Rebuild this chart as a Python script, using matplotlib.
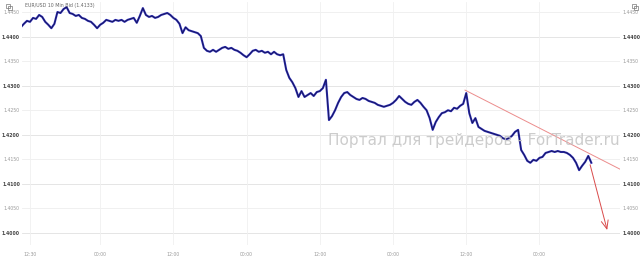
import numpy as np
import matplotlib
matplotlib.use("Agg")
import matplotlib.pyplot as plt

# ---- data ----
start_hour = 11.0          # hours since day-0 midnight (10-min bid closes sampled every 30 min)
step_hours = 0.5
prices = [
    1.4419, 1.4426, 1.4432, 1.4430, 1.4438, 1.4436, 1.4444, 1.4440, 1.4430, 1.4424,
    1.4417, 1.4426, 1.4450, 1.4448, 1.4456, 1.4460, 1.4448, 1.4446, 1.4442, 1.4444,
    1.4438, 1.4436, 1.4432, 1.4430, 1.4424, 1.4417, 1.4424, 1.4428, 1.4434, 1.4432,
    1.4430, 1.4434, 1.4432, 1.4434, 1.4430, 1.4434, 1.4436, 1.4438, 1.4428, 1.4442,
    1.4458, 1.4444, 1.4440, 1.4442, 1.4438, 1.4440, 1.4444, 1.4446, 1.4448, 1.4444,
    1.4438, 1.4434, 1.4426, 1.4407, 1.4419, 1.4413, 1.4411, 1.4409, 1.4407, 1.4401,
    1.4377, 1.4371, 1.4369, 1.4373, 1.4369, 1.4373, 1.4377, 1.4379, 1.4375, 1.4377,
    1.4373, 1.4371, 1.4367, 1.4362, 1.4358, 1.4364, 1.4371, 1.4373, 1.4369, 1.4371,
    1.4367, 1.4369, 1.4364, 1.4369, 1.4364, 1.4362, 1.4364, 1.4332, 1.4316, 1.4307,
    1.4295, 1.4277, 1.4289, 1.4277, 1.4281, 1.4285, 1.4279, 1.4287, 1.4289, 1.4295,
    1.4312, 1.4230, 1.4238, 1.4250, 1.4265, 1.4277, 1.4285, 1.4287, 1.4281, 1.4277,
    1.4273, 1.4271, 1.4275, 1.4273, 1.4269, 1.4267, 1.4265, 1.4261, 1.4259, 1.4257,
    1.4259, 1.4261, 1.4265, 1.4271, 1.4279, 1.4273, 1.4267, 1.4263, 1.4261, 1.4267,
    1.4271, 1.4265, 1.4257, 1.4250, 1.4234, 1.4210, 1.4226, 1.4236, 1.4244, 1.4246,
    1.4250, 1.4248, 1.4255, 1.4253, 1.4259, 1.4263, 1.4285, 1.4244, 1.4224, 1.4234,
    1.4216, 1.4212, 1.4208, 1.4206, 1.4204, 1.4202, 1.4200, 1.4198, 1.4193, 1.4191,
    1.4193, 1.4198, 1.4206, 1.4210, 1.4169, 1.4159, 1.4147, 1.4143, 1.4149, 1.4147,
    1.4153, 1.4155, 1.4163, 1.4165, 1.4167, 1.4165, 1.4167, 1.4165, 1.4165, 1.4163,
    1.4159, 1.4153, 1.4143, 1.4128, 1.4137, 1.4145, 1.4157, 1.4143,
]
trend_hours = [83.8, 109.2]
trend_prices = [1.4291, 1.4130]
arrow_start = (104.3, 1.4139)
arrow_end = (107.1, 1.4006)

xtick_hours = [12.5, 24, 36, 48, 60, 72, 84, 96]
xtick_labels = ["12:30", "00:00", "12:00", "00:00", "12:00", "00:00", "12:00", "00:00"]
ytick_values = [1.4000, 1.4050, 1.4100, 1.4150, 1.4200, 1.4250, 1.4300, 1.4350, 1.4400, 1.4450]
title_text = "EUR/USD 10 Min Bid (1.4133)"
watermark = "Портал для трейдеров - ForTrader.ru"

hours = start_hour + step_hours * np.arange(len(prices))

# ---- figure ----
W, H = 642, 263
fig = plt.figure(figsize=(W / 100, H / 100), dpi=100)
fig.patch.set_facecolor("white")
ax = fig.add_axes([22 / W, 18 / H, 598 / W, 243 / H])
ax.set_facecolor("white")
for s in ax.spines.values():
    s.set_visible(False)

ax.set_xlim(11.19, 109.2)
ax.set_ylim(1.39756, 1.44704)

# grid
for v in ytick_values:
    major = abs(round(v * 100) - v * 100) < 1e-6
    ax.axhline(v, color="#e0e0e0" if major else "#eeeeee", lw=0.6, zorder=0)
for h in xtick_hours:
    ax.axvline(h, color="#f0f0f0", lw=0.6, zorder=0)

# price line
ax.plot(hours, prices, color="#2b2bb5", lw=1.5, zorder=3)
ax.plot(hours, prices, color="#0d0d26", lw=0.45, alpha=0.8, zorder=4)

# trend line and arrow
ax.plot(trend_hours, trend_prices, color="#ec8c8c", lw=0.7, zorder=5)
ax.annotate("", xy=arrow_end, xytext=arrow_start,
            arrowprops=dict(arrowstyle="->,head_length=0.6,head_width=0.25",
                            color="#d94a4a", lw=0.7, shrinkA=0, shrinkB=0),
            zorder=6)

# ticks
ax.set_xticks(xtick_hours)
ax.set_xticklabels(xtick_labels)
ax.set_yticks(ytick_values)
ax.set_yticklabels([f"{v:.4f}" for v in ytick_values])
ax.tick_params(axis="both", length=0, labelsize=3.3, colors="#999999")
ax.tick_params(axis="y", labelleft=True, labelright=True, pad=1.5)
ax.tick_params(axis="x", pad=5)
for lab in ax.get_yticklabels():
    v = float(lab.get_text())
    if abs(round(v * 100) - v * 100) < 1e-6:
        lab.set_color("#444444")
        lab.set_fontweight("bold")

# title and watermark
fig.text(25 / W, 1 - 5 / H, title_text, fontsize=3.4, color="#666666", va="center", ha="left")
fig.text(620 / W, 1 - 140 / H, watermark, fontsize=11, color="#c4c4c4", alpha=0.85,
         va="center", ha="right", zorder=10)

# small corner icons
for xx in (6, 632):
    fig.patches.append(matplotlib.patches.Rectangle((xx / W, 1 - 8 / H), 4 / W, 4 / H,
                       transform=fig.transFigure, fill=False, ec="#777777", lw=0.5))
    fig.patches.append(matplotlib.patches.Rectangle(((xx + 2) / W, 1 - 10 / H), 4 / W, 4 / H,
                       transform=fig.transFigure, fill=False, ec="#777777", lw=0.5))

fig.savefig("out.png", dpi=100, facecolor="white")
